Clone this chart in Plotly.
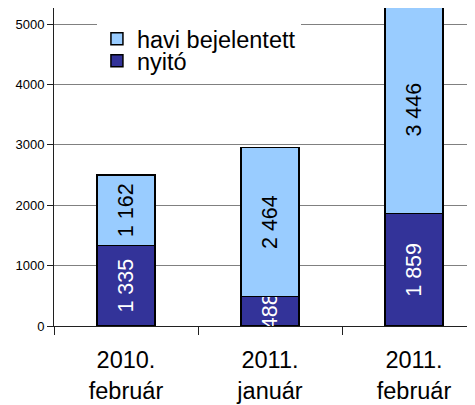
import plotly.graph_objects as go

categories = ["2010.<br>február", "2011.<br>január", "2011.<br>február"]
nyito = [1335, 488, 1859]
havi = [1162, 2464, 3446]
nyito_labels = ["1 335", "488", "1 859"]
havi_labels = ["1 162", "2 464", "3 446"]
y_ticks = [0, 1000, 2000, 3000, 4000, 5000]

xpos = list(range(len(categories)))
FONT = "Liberation Sans, Arial, sans-serif"

# page body has an 8px margin; figure is sized/offset to compensate
W, H = 467, 397
L, T, B = 46, 0, 79
PH = H - T - B  # plot height
AX = "#202020"

fig = go.Figure()
fig.add_trace(go.Bar(
    x=xpos, y=nyito, name="nyitó", width=0.405, legend="legend2",
    marker=dict(color="#333399", line=dict(color="black", width=1.5)),
    text=nyito_labels, textposition="inside", textangle=-90,
    insidetextanchor="middle", constraintext="none",
    textfont=dict(color="white", size=21.5, family=FONT),
    cliponaxis=True,
))
fig.add_trace(go.Bar(
    x=xpos, y=havi, name="havi bejelentett", width=0.405, legend="legend",
    marker=dict(color="#99CCFF", line=dict(color="black", width=1.5)),
    text=havi_labels, textposition="inside", textangle=-90,
    insidetextanchor="middle", constraintext="none",
    textfont=dict(color="black", size=21.5, family=FONT),
    cliponaxis=True,
))

leg_common = dict(xanchor="left", yanchor="middle",
                  borderwidth=0, font=dict(size=23.5, family=FONT),
                  itemwidth=30)

fig.update_layout(
    barmode="stack",
    width=W, height=H,
    margin=dict(l=L, r=0, t=T, b=B, pad=0, autoexpand=False),
    paper_bgcolor="white", plot_bgcolor="white",
    font=dict(family=FONT, color="black"),
    showlegend=True,
    legend=dict(x=0.102, y=(PH - 31) / PH, bgcolor="white", **leg_common),
    legend2=dict(x=0.102, y=(PH - 53) / PH, bgcolor="rgba(0,0,0,0)", **leg_common),
    xaxis=dict(
        range=[-0.5, (W - L) / 144 - 0.5],
        tickmode="array", tickvals=xpos, ticktext=categories,
        ticks="", showgrid=False, zeroline=False, automargin=False,
        showline=True, linecolor=AX, linewidth=1,
        tickfont=dict(size=23.5, family=FONT),
        ticklabelstandoff=13,
        minor=dict(tickmode="array", tickvals=[-0.5, 0.5, 1.5],
                   ticks="outside", ticklen=8, tickcolor=AX,
                   tickwidth=1, showgrid=False),
    ),
    yaxis=dict(
        range=[0, 5265], automargin=False,
        tickmode="array", tickvals=y_ticks,
        ticks="outside", ticklen=6, tickcolor=AX,
        showgrid=True, gridcolor="#808080", gridwidth=1,
        zeroline=False,
        showline=True, linecolor=AX, linewidth=1,
        tickfont=dict(size=13, family=FONT),
    ),
)

fig.write_html("out.html")
